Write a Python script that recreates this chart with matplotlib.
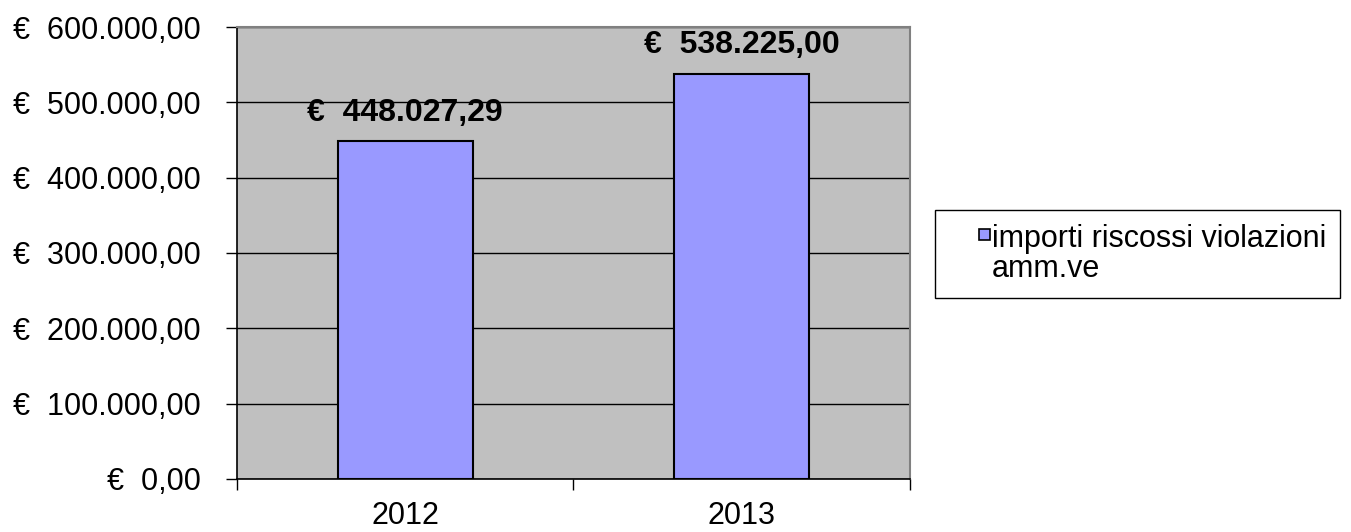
import matplotlib
matplotlib.use("Agg")
import matplotlib.pyplot as plt
from matplotlib.ticker import FuncFormatter, FixedLocator
from matplotlib.patches import Patch, Rectangle
from matplotlib.legend_handler import HandlerPatch

plt.rcParams['font.family'] = ['Liberation Sans', 'DejaVu Sans']

# Data
years = ['2012', '2013']
importi = [448027.29, 538225.00]
series_lines = ['importi riscossi violazioni', 'amm.ve']
y_ticks = [0, 100000, 200000, 300000, 400000, 500000, 600000]
bar_color = '#9999FF'


def euro(v, pos=None):
    # Italian style: dot thousands separator, comma decimals
    s = f"{v:,.2f}".replace(',', 'X').replace('.', ',').replace('X', '.')
    return '€  ' + s


# small square key drawn at the right end of the handle area (Excel look)
def small_square(legend, orig_handle, xdescent, ydescent, width, height, fontsize):
    s = 8
    return Rectangle((width - s - xdescent, -ydescent + (height - s) / 2 + 1), s, s)


fig = plt.figure(figsize=(13.51, 5.32), dpi=100)
ax = fig.add_axes([237 / 1351, 53 / 532, 673 / 1351, 452 / 532])
ax.set_facecolor('#C0C0C0')

x = list(range(len(years)))
bars = ax.bar(x, importi, width=0.4, color=bar_color, edgecolor='black',
              linewidth=1.5, zorder=3)

ax.set_xlim(-0.5, len(years) - 0.5)
ax.set_ylim(0, 600000)
ax.set_yticks(y_ticks)
ax.yaxis.set_major_formatter(FuncFormatter(euro))
ax.grid(axis='y', color='black', linewidth=1, zorder=1)
ax.set_axisbelow(True)

# category labels without marks, boundary ticks pointing down
ax.set_xticks(x)
ax.set_xticklabels(years)
ax.tick_params(axis='x', which='major', length=0, labelsize=22, pad=16)
ax.xaxis.set_minor_locator(FixedLocator([-0.5, 0.5, 1.5]))
ax.tick_params(axis='x', which='minor', length=8, width=1, direction='out')
ax.tick_params(axis='y', length=8, width=1, direction='out', labelsize=22, pad=18)

for side in ['top', 'right']:
    ax.spines[side].set_color('#808080')
    ax.spines[side].set_linewidth(1.5)
for side in ['left', 'bottom']:
    ax.spines[side].set_color('black')
    ax.spines[side].set_linewidth(1.2)

# value labels over the bars
for b, v in zip(bars, importi):
    ax.annotate(euro(v), (b.get_x() + b.get_width() / 2, v),
                xytext=(0, 10), textcoords='offset points',
                ha='center', va='bottom', fontsize=23, fontweight='bold')

# legend: key on the first line, second line without key
handles = [Patch(facecolor=bar_color, edgecolor='black', linewidth=1.2),
           Patch(facecolor='none', edgecolor='none')]
leg = fig.legend(handles, series_lines, loc='upper left',
                 bbox_to_anchor=(935 / 1351, (532 - 210) / 532),
                 handler_map={Patch: HandlerPatch(patch_func=small_square)},
                 fontsize=22, frameon=True, fancybox=False, edgecolor='black',
                 framealpha=1, handlelength=1.35, handleheight=0.7,
                 handletextpad=0.05, borderpad=0.45, borderaxespad=0,
                 labelspacing=0.0)
leg.get_frame().set_linewidth(1)

fig.savefig('out.png', dpi=100)
